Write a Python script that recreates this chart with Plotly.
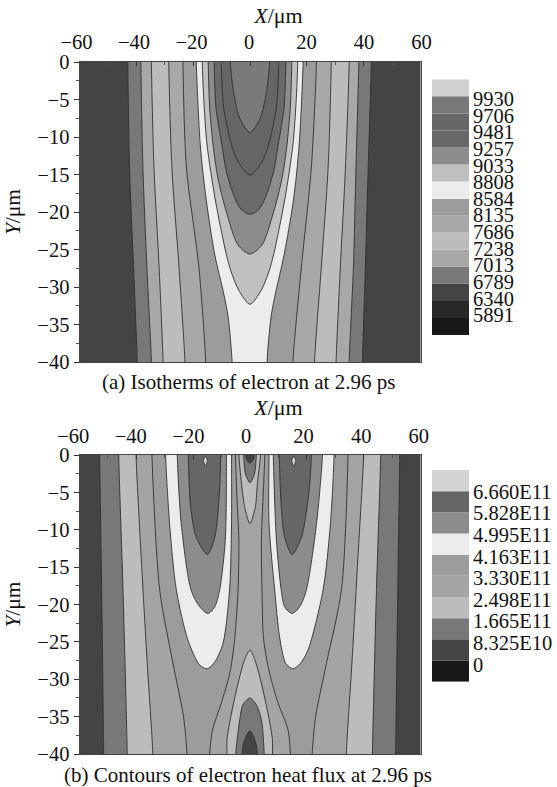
import plotly.graph_objects as go

W, H = 557, 787
SERIF = "Liberation Serif"

# ---------- panel (a): isotherm outlines (X um, Y um) ----------
A_Y4 = [0, -14, -27.3, -40, -40, -27.3, -14, 0]
A_L1_X = [-43, -42.4, -41, -39.7, 39.6, 40.6, 41.6, 42.7]
A_L2_X = [-38.4, -37.7, -36.3, -34.7, 34.9, 36.4, 37.3, 38.3]
A_L3_X = [-34.7, -33.8, -32, -30.6, 30.3, 31.8, 33.6, 34.9]
A_L4_X = [-28.6, -27.5, -25, -22.9, 22.7, 25.1, 27.5, 28.6]
A_L5_X = [-23.6, -22.4, -18, -15.6, 15.1, 18.1, 21.6, 23.4]
A_L6_X = [-18.9, -17.5, -15.4, -12.4, -9.3, -7.7, -6.3, 6, 7.4, 9, 12, 15.3, 17.3, 18.7]
A_L6_Y = [0, -11.07, -18.4, -25.7, -30.8, -34, -40, -40, -34, -30.8, -25.7, -18.4, -11.07, 0]
A_U5_X = [-16.8, -16.2, -15.1, -12.2, -8.3, -6.6, -4, 0, 4, 6.6, 8.3, 12.2, 15.1, 16.2, 16.8]
A_U5_Y = [0, -5.5, -11.07, -18.4, -25.7, -28, -30.4, -32.3, -30.4, -28, -25.7, -18.4, -11.07, -5.5, 0]
A_U4_X = [-14.7, -14.2, -13, -11.3, -8.3, -4.2, 0, 4.2, 8.3, 11.3, 13, 14.2, 14.7]
A_U4_Y = [0, -6, -11.07, -15.47, -20, -24.4, -25.6, -24.4, -20, -15.47, -11.07, -6, 0]
A_U3_X = [-12.6, -12, -9.9, -8.3, -5.4, -3, 0, 3, 5.4, 8.3, 9.9, 12, 12.6]
A_U3_Y = [0, -6, -11.07, -14.6, -18.1, -19.7, -20.3, -19.7, -18.1, -14.6, -11.07, -6, 0]
A_U2_X = [-10.1, -9.3, -6.5, -4.2, 0, 4.2, 6.5, 9.3, 10.1]
A_U2_Y = [0, -6, -11.07, -13.3, -15.07, -13.3, -11.07, -6, 0]
A_U1_X = [-6.9, -6, -3.6, 0, 3.6, 6, 6.9]
A_U1_Y = [0, -3.5, -7.5, -9.4, -7.5, -3.5, 0]

# ---------- panel (b): heat-flux contour outlines ----------
B_Y3 = [0, -18, -40, -40, -18, 0]
B_1_X = [-52.9, -52.2, -51.5, 51.3, 52, 52.7]
B_2_X = [-46.2, -44.7, -43.2, 43.1, 44.5, 46]
B_3_X = [-40.1, -38.3, -36.3, -34.2, 33.9, 36, 38, 40]
B_3_Y = [0, -13.6, -27, -40, -40, -27, -13.6, 0]
B_4_X = [-34.5, -31.8, -27.1, -23.4, -22.2, 21.9, 23.1, 26.9, 32.2, 34.5]
B_4_Y = [0, -18, -27.9, -35, -40, -40, -35, -27.9, -18, 0]
B_LW_X = [-29.7, -28.3, -25.9, -21.8, -17.7, -15, -12.4, -9.5, -7.2, -6.5, -6.5]
B_LW_Y = [0, -9.2, -18.1, -24.8, -28.1, -28.6, -27.7, -25.2, -18.1, -9.2, 0]
B_RW_X = [6.7, 6.7, 8.7, 10.4, 12.6, 15.1, 17.7, 20.4, 25.7, 28.3, 29.6]
B_RW_Y = [0, -9.2, -18.1, -24.3, -27.9, -28.6, -27.9, -26.1, -18.1, -9.2, 0]
B_LM_X = [-25.6, -24.2, -20.7, -17.7, -14.8, -12.4, -10.7, -8.7, -8.3]
B_LM_Y = [0, -9.2, -18.1, -20.3, -21.2, -20.3, -18.1, -11.4, 0]
B_RM_X = [8.2, 9.3, 11, 12.2, 14.8, 17.5, 19.8, 23.4, 25.5]
B_RM_Y = [0, -11.4, -18.1, -20.3, -21.2, -20.3, -18.1, -9.2, 0]
B_LD_X = [-21.7, -20.9, -18.9, -15, -12.4, -10.7, -10.3]
B_LD_Y = [0, -6.9, -11, -13.3, -11, -4.7, 0]
B_RD_X = [10.3, 11, 12.2, 14.8, 18.1, 20.8, 21.6]
B_RD_Y = [0, -6.9, -11, -13.3, -11, -4.7, 0]
B_TIPL_X = [-15.7, -16.4, -15.7, -15, -15.7]
B_TIPR_X = [15.4, 14.7, 15.4, 16.1, 15.4]
B_TIP_Y = [-0.2, -0.7, -1.5, -0.7, -0.2]
B_C_X = [-5.1, -4.6, -3.9, -4.2, -5.4, -7.1, -10.1, -13.2, -14.2,
         14.2, 13.4, 9.9, 6.9, 4.8, 4.2, 4, 4.6, 5.2]
B_C_Y = [0, -5.7, -11.4, -18, -24.7, -29.2, -33.2, -36.8, -40,
         -40, -36.8, -33.2, -29.2, -24.7, -18, -11.4, -5.7, 0]
B_TC1_X = [-3.9, -3, -1.9, 0, 1.9, 2.6, 3.7]
B_TC1_Y = [0, -3.8, -6.9, -9.2, -6.9, -3.8, 0]
B_TC2_X = [-2.2, -1.6, 0, 1.6, 2.2]
B_TC2_Y = [0, -2.5, -3.7, -2.5, 0]
B_TC3_X = [-1.5, -1, 0, 1, 1.5]
B_TC3_Y = [0, -0.7, -1.1, -0.7, 0]
B_BC1_X = [-8.1, -8.1, -6.5, -3.6, -1.9, 0, 1.7, 3.4, 6.3, 7.9, 7.9]
B_BC1_Y = [-40, -38.1, -34.5, -29.6, -27.4, -26.1, -27.4, -29.6, -34.5, -38.1, -40]
B_BC2_X = [-5, -3.6, -2.5, 0, 2.2, 4, 5]
B_BC2_Y = [-40, -35.4, -33.4, -32.5, -33.4, -35.4, -40]
B_BC3_X = [-2.7, -2.2, 0, 2, 2.6]
B_BC3_Y = [-40, -38.5, -36.9, -38.5, -40]

# the darkest band fills the whole frame
FRAME_X = [-62, -62, 62, 62]
FRAME_Y = [0, -40, -40, 0]

# ---------- legend keys ----------
LEGEND_A_LABELS = ["9930", "9706", "9481", "9257", "9033", "8808", "8584", "8135",
                   "7686", "7238", "7013", "6789", "6340", "5891"]
LEGEND_A_COLORS = ["#d0d0d0", "#787878", "#666666", "#686868", "#8c8c8c", "#c0c0c0", "#ececec",
                   "#9c9c9c", "#a8a8a8", "#bcbcbc", "#a8a8a8", "#787878", "#444444", "#282828", "#181818"]
LEGEND_B_LABELS = ["6.660E11", "5.828E11", "4.995E11", "4.163E11", "3.330E11",
                   "2.498E11", "1.665E11", "8.325E10", "0"]
LEGEND_B_COLORS = ["#d4d4d4", "#666666", "#8c8c8c", "#ececec", "#9c9c9c",
                   "#a4a4a4", "#bcbcbc", "#787878", "#444444", "#181818"]
X_TICKS = [-60, -40, -20, 0, 20, 40, 60]

fig = go.Figure()


def fx(px):
    return px / W


def fy(py):
    return 1 - py / H


def region(xs, ys, color, xaxis, yaxis):
    """Closed outline whose ends on the frame are carried just past it, so the curve stays smooth."""
    ox, oy = [], []
    n = len(xs)
    for i, (x, y) in enumerate(zip(xs, ys)):
        on_edge = y == 0 or y == -40
        ext = 2.5 if y == 0 else -2.5
        second_of_pair = on_edge and i > 0 and ys[i - 1] == y
        first_of_pair = on_edge and i < n - 1 and ys[i + 1] == y
        if on_edge and (i == 0 or second_of_pair):
            ox.append(x); oy.append(y + ext)
        ox.append(x); oy.append(y)
        if on_edge and (i == n - 1 or first_of_pair):
            ox.append(x); oy.append(y + ext)
    fig.add_trace(go.Scatter(x=ox, y=oy, mode="lines", fill="toself", fillcolor=color,
                             line=dict(color="#303030", width=0.9, shape="spline", smoothing=0.8),
                             hoverinfo="skip", showlegend=False, xaxis=xaxis, yaxis=yaxis))


for xs, ys, c in [
    (FRAME_X, FRAME_Y, "#444444"),
    (A_L1_X, A_Y4, "#787878"), (A_L2_X, A_Y4, "#a8a8a8"), (A_L3_X, A_Y4, "#bcbcbc"),
    (A_L4_X, A_Y4, "#a8a8a8"), (A_L5_X, A_Y4, "#9c9c9c"), (A_L6_X, A_L6_Y, "#ececec"),
    (A_U5_X, A_U5_Y, "#c0c0c0"), (A_U4_X, A_U4_Y, "#8c8c8c"), (A_U3_X, A_U3_Y, "#6a6a6a"),
    (A_U2_X, A_U2_Y, "#666666"), (A_U1_X, A_U1_Y, "#7a7a7a"),
]:
    region(xs, ys, c, "x", "y")

for xs, ys, c in [
    (FRAME_X, FRAME_Y, "#444444"),
    (B_1_X, B_Y3, "#787878"), (B_2_X, B_Y3, "#bcbcbc"), (B_3_X, B_3_Y, "#a4a4a4"),
    (B_4_X, B_4_Y, "#9c9c9c"), (B_LW_X, B_LW_Y, "#ececec"), (B_RW_X, B_RW_Y, "#ececec"),
    (B_LM_X, B_LM_Y, "#8c8c8c"), (B_RM_X, B_RM_Y, "#8c8c8c"), (B_LD_X, B_LD_Y, "#666666"),
    (B_RD_X, B_RD_Y, "#666666"), (B_TIPL_X, B_TIP_Y, "#d4d4d4"), (B_TIPR_X, B_TIP_Y, "#d4d4d4"),
    (B_C_X, B_C_Y, "#a4a4a4"), (B_TC1_X, B_TC1_Y, "#bcbcbc"), (B_TC2_X, B_TC2_Y, "#787878"),
    (B_TC3_X, B_TC3_Y, "#444444"), (B_BC1_X, B_BC1_Y, "#bcbcbc"), (B_BC2_X, B_BC2_Y, "#787878"),
    (B_BC3_X, B_BC3_Y, "#444444"),
]:
    region(xs, ys, c, "x2", "y2")


def key(colors, xaxis, yaxis):
    vals = list(reversed(colors))
    fig.add_trace(go.Bar(x=[0] * len(vals), y=[1] * len(vals), base=list(range(len(vals))), width=1,
                         marker=dict(color=vals, line=dict(width=0)), hoverinfo="skip",
                         showlegend=False, xaxis=xaxis, yaxis=yaxis))


key(LEGEND_A_COLORS, "x3", "y3")
key(LEGEND_B_COLORS, "x4", "y4")

# free axes that carry the top tick numbers at their slightly wider spacing
for ax, ya in (("x5", "y"), ("x6", "y2")):
    fig.add_trace(go.Scatter(x=[0], y=[0], mode="lines", hoverinfo="skip", showlegend=False,
                             xaxis=ax, yaxis=ya))

FONT_T = dict(family=SERIF, size=20.5, color="#111111")
FRAME = dict(showline=True, linecolor="#444444", linewidth=1, mirror=True, showgrid=False, zeroline=False,
             automargin=False)


def main_x(dom):
    return dict(FRAME, domain=dom, range=[-60, 60], side="top", dtick=20, tick0=0, ticks="inside", ticklen=4,
                tickcolor="#333333", showticklabels=False,
                minor=dict(dtick=10, ticks="inside", ticklen=3, tickcolor="#555555"))


def main_y(dom):
    return dict(FRAME, domain=dom, range=[-40, 0], dtick=5, tick0=0, ticks="outside", ticklen=5,
                tickcolor="#333333", tickfont=FONT_T,
                minor=dict(dtick=2.5, ticks="outside", ticklen=3, tickcolor="#555555"),
                title=dict(text="<i>Y</i>/μm", font=dict(family=SERIF, size=21.5, color="#111111"), standoff=10))


def label_x(center, scale, pos, title_gap):
    return dict(domain=[0, 1], range=[-center / scale, (W - center) / scale], anchor="free",
                position=pos, side="top", tickvals=X_TICKS, ticks="", showline=False, showgrid=False,
                zeroline=False, automargin=False, tickfont=FONT_T, ticklabelstandoff=0,
                title=dict(text="<i>X</i>/μm", font=dict(family=SERIF, size=22, color="#111111"), standoff=title_gap))


def key_y(n, dom, labels, first, step, anchor):
    return dict(domain=dom, range=[0, n], anchor=anchor, side="right",
                tickvals=[first - i * step for i in range(len(labels))],
                ticktext=labels, ticks="", showline=False, showgrid=False, zeroline=False, automargin=False,
                ticklabelstandoff=3, tickfont=dict(family=SERIF, size=20.5, color="#111111"))


KEY_X = [fx(432), fx(469)]
PA_X, PA_Y = [fx(79.5), fx(420.5)], [fy(362), fy(62)]
PB_X, PB_Y = [fx(79.5), fx(420.5)], [fy(754), fy(455)]
KA_Y, KB_Y = [fy(335), fy(79.3)], [fy(681.7), fy(470)]

fig.update_layout(
    width=W, height=H, margin=dict(l=0, r=0, t=0, b=0, pad=0, autoexpand=False), autosize=False,
    paper_bgcolor="white", plot_bgcolor="rgba(0,0,0,0)", barmode="overlay",
    xaxis=main_x(PA_X), yaxis=main_y(PA_Y),
    xaxis2=dict(main_x(PB_X), anchor="y2"), yaxis2=dict(main_y(PB_Y), anchor="x2"),
    xaxis3=dict(domain=KEY_X, range=[-0.5, 0.5], visible=False, anchor="y3"),
    yaxis3=key_y(15, KA_Y, LEGEND_A_LABELS, 13.84, 0.974, "x3"),
    xaxis4=dict(domain=KEY_X, range=[-0.5, 0.5], visible=False, anchor="y4"),
    yaxis4=key_y(10, KB_Y, LEGEND_B_LABELS, 8.98, 1.02, "x4"),
    xaxis5=label_x(249, 2.875, fy(53.5), 0),
    xaxis6=label_x(246, 2.88, fy(447.5), 2),
    annotations=[
        dict(text="(a) Isotherms of electron at 2.96 ps", x=fx(248), y=fy(382), xref="paper", yref="paper",
             xanchor="center", yanchor="middle", showarrow=False, font=dict(family=SERIF, size=21, color="#111111")),
        dict(text="(b) Contours of electron heat flux at 2.96 ps", x=fx(248), y=fy(775), xref="paper", yref="paper",
             xanchor="center", yanchor="middle", showarrow=False, font=dict(family=SERIF, size=21, color="#111111")),
    ],
)

fig.write_html("out.html", config={"displayModeBar": False},
               post_script="document.body.style.margin='0';document.body.style.overflow='hidden';")
